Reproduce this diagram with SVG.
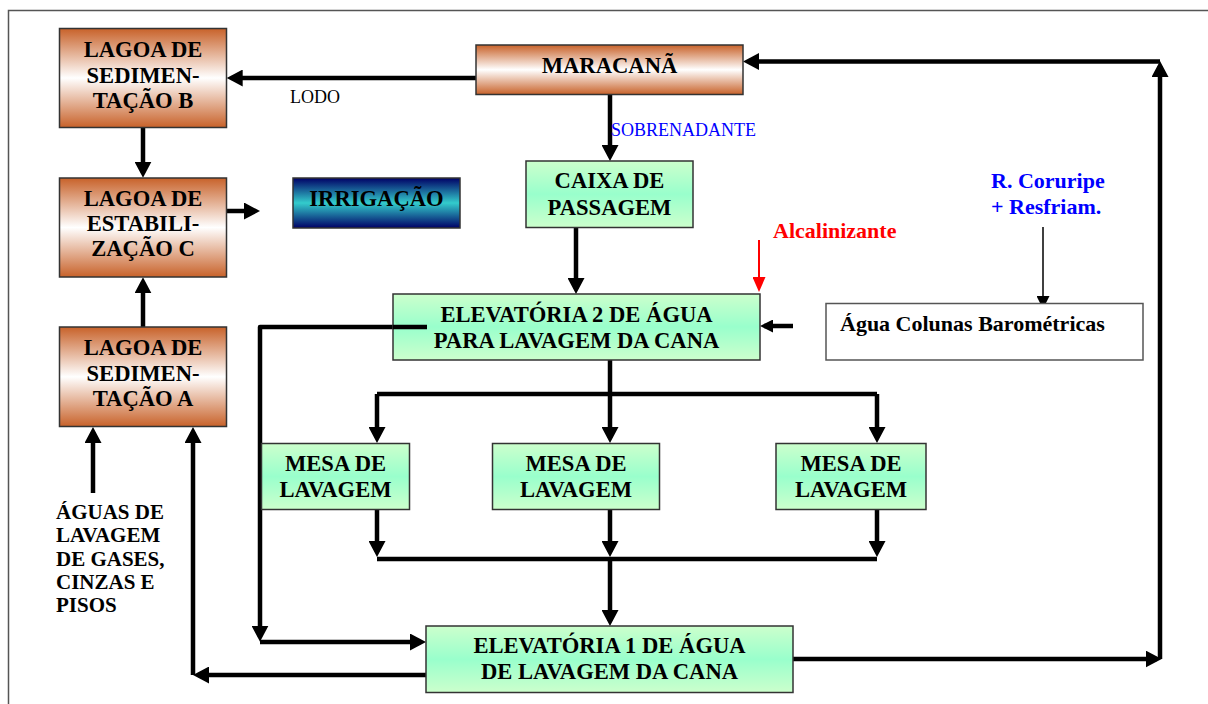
<svg xmlns="http://www.w3.org/2000/svg" width="1208" height="704" viewBox="0 0 1208 704">
<defs>
  <linearGradient id="gCopper" x1="0" y1="0" x2="0" y2="1">
    <stop offset="0" stop-color="#C8622A"/>
    <stop offset="0.5" stop-color="#FFFFFF"/>
    <stop offset="1" stop-color="#C8622A"/>
  </linearGradient>
  <linearGradient id="gGreen" x1="0" y1="0" x2="0" y2="1">
    <stop offset="0" stop-color="#CCFFCC"/>
    <stop offset="0.5" stop-color="#99FFCC"/>
    <stop offset="1" stop-color="#CCFFCC"/>
  </linearGradient>
  <linearGradient id="gBlue" x1="0" y1="0" x2="0" y2="1">
    <stop offset="0" stop-color="#000066"/>
    <stop offset="0.5" stop-color="#33CCCC"/>
    <stop offset="1" stop-color="#000066"/>
  </linearGradient>
  <marker id="arr" markerUnits="userSpaceOnUse" markerWidth="17" markerHeight="17" refX="11" refY="8.5" orient="auto">
    <path d="M0,0 L16,8.5 L0,17 z" fill="#000"/>
  </marker>
  <marker id="arrS" markerUnits="userSpaceOnUse" markerWidth="14" markerHeight="13" refX="9" refY="6.5" orient="auto">
    <path d="M0,0 L13,6.5 L0,13 z" fill="#000"/>
  </marker>
  <marker id="arrThin" markerUnits="userSpaceOnUse" markerWidth="14" markerHeight="13" refX="11" refY="6.5" orient="auto">
    <path d="M0,0 L13,6.5 L0,13 z" fill="#000"/>
  </marker>
  <marker id="arrRed" markerUnits="userSpaceOnUse" markerWidth="15" markerHeight="13" refX="12" refY="6.5" orient="auto">
    <path d="M0,0 L15,6.5 L0,13 z" fill="#FF0000"/>
  </marker>
</defs>
<style>
  .box { stroke: #333; stroke-width: 1.5; }
  .copper { fill: url(#gCopper); }
  .green { fill: url(#gGreen); }
  .blue { fill: url(#gBlue); }
  .lbl { font-family: "Liberation Serif", "Times New Roman", serif; font-weight: bold; font-size: 22.6px; fill: #000; text-anchor: middle; }
  .small { font-family: "Liberation Serif", "Times New Roman", serif; font-size: 18px; }
  .note { font-family: "Liberation Serif", "Times New Roman", serif; font-weight: bold; font-size: 22px; }
  .side { font-family: "Liberation Serif", "Times New Roman", serif; font-weight: bold; font-size: 21px; fill: #000; }
  .conn { fill: none; stroke: #000; stroke-width: 4.5; stroke-linejoin: round; }
  .thin { fill: none; stroke: #000; stroke-width: 1.5; }
  .red { fill: none; stroke: #FF0000; stroke-width: 2; }
</style>
<rect x="8.5" y="10.5" width="1300" height="800" fill="none" stroke="#555" stroke-width="1.5"/>

<g id="connectors">
  <path class="conn" d="M476,78 H231.7" marker-end="url(#arr)"/>
  <path class="conn" d="M610,95 V156" marker-end="url(#arr)"/>
  <path class="conn" d="M143,128 V172.7" marker-end="url(#arr)"/>
  <path class="conn" d="M226.7,211 H255" marker-end="url(#arr)"/>
  <path class="conn" d="M143,327 V282.3" marker-end="url(#arr)"/>
  <path class="conn" d="M576,228 V289" marker-end="url(#arr)"/>
  <path class="red" d="M759,240 V289" marker-end="url(#arrRed)"/>
  <path class="thin" d="M1043,227 V307" marker-end="url(#arrThin)"/>
  <path class="conn" d="M793,326 H764" marker-end="url(#arrS)"/>
  <path class="conn" d="M427,327 H260 V636.7" marker-end="url(#arr)"/>
  <path class="conn" d="M260,642 H421" marker-end="url(#arr)"/>
  <path class="conn" d="M610,360 V438" marker-end="url(#arr)"/>
  <path class="conn" d="M377,394 H877"/>
  <path class="conn" d="M377,394 V438" marker-end="url(#arr)"/>
  <path class="conn" d="M877,394 V438" marker-end="url(#arr)"/>
  <path class="conn" d="M377,510 V552" marker-end="url(#arr)"/>
  <path class="conn" d="M610,510 V552" marker-end="url(#arr)"/>
  <path class="conn" d="M877,510 V552" marker-end="url(#arr)"/>
  <path class="conn" d="M377,559 H877"/>
  <path class="conn" d="M610,559 V621" marker-end="url(#arr)"/>
  <path class="conn" d="M793,659 H1156.7" marker-end="url(#arr)"/>
  <path class="conn" d="M1160,659 V66" marker-end="url(#arr)"/>
  <path class="conn" d="M1160,61.5 H748" marker-end="url(#arr)"/>
  <path class="conn" d="M426,675 H198" marker-end="url(#arr)"/>
  <path class="conn" d="M193,675 V432" marker-end="url(#arr)"/>
  <path class="conn" d="M93,493 V432" marker-end="url(#arr)"/>
</g>

<g id="lagoaB">
  <rect class="box copper" x="59.5" y="28.5" width="167" height="99"/>
  <text class="lbl" x="143" y="57">LAGOA DE</text>
  <text class="lbl" x="143" y="82.5">SEDIMEN-</text>
  <text class="lbl" x="143" y="107.5">TAÇÃO B</text>
</g>
<g id="lagoaC">
  <rect class="box copper" x="59.5" y="178" width="167" height="99"/>
  <text class="lbl" x="143" y="206">LAGOA DE</text>
  <text class="lbl" x="143" y="231">ESTABILI-</text>
  <text class="lbl" x="143" y="256">ZAÇÃO C</text>
</g>
<g id="lagoaA">
  <rect class="box copper" x="59.5" y="327" width="167" height="99.5"/>
  <text class="lbl" x="143" y="355">LAGOA DE</text>
  <text class="lbl" x="143" y="380.5">SEDIMEN-</text>
  <text class="lbl" x="143" y="406">TAÇÃO A</text>
</g>
<g id="irrigacao">
  <rect class="box blue" x="293" y="178" width="167" height="50"/>
  <text class="lbl" x="376.5" y="205.5">IRRIGAÇÃO</text>
</g>
<g id="maracana">
  <rect class="box copper" x="476" y="45" width="267" height="49.5"/>
  <text class="lbl" x="609.5" y="73">MARACANÃ</text>
</g>
<g id="caixa">
  <rect class="box green" x="526" y="161" width="167" height="66.5"/>
  <text class="lbl" x="609.5" y="188">CAIXA DE</text>
  <text class="lbl" x="609.5" y="215">PASSAGEM</text>
</g>
<g id="elevatoria2">
  <rect class="box green" x="393" y="294" width="367" height="66"/>
  <path class="conn" d="M393,327 H427"/>
  <text class="lbl" x="576.5" y="322">ELEVATÓRIA 2 DE ÁGUA</text>
  <text class="lbl" x="576.5" y="348">PARA LAVAGEM DA CANA</text>
</g>
<g id="aguaColunas">
  <rect x="826" y="303.5" width="317" height="56.5" fill="#FFF" stroke="#555" stroke-width="1.5"/>
  <text class="note" x="840" y="331" fill="#000">Água Colunas Barométricas</text>
</g>
<g id="mesa1">
  <rect class="box green" x="261.5" y="443.5" width="148" height="66"/>
  <text class="lbl" x="335.5" y="471">MESA DE</text>
  <text class="lbl" x="335.5" y="497">LAVAGEM</text>
</g>
<g id="mesa2">
  <rect class="box green" x="492.5" y="443.5" width="167" height="66"/>
  <text class="lbl" x="576" y="471">MESA DE</text>
  <text class="lbl" x="576" y="497">LAVAGEM</text>
</g>
<g id="mesa3">
  <rect class="box green" x="776" y="443.5" width="150" height="66"/>
  <text class="lbl" x="851" y="471">MESA DE</text>
  <text class="lbl" x="851" y="497">LAVAGEM</text>
</g>
<g id="elevatoria1">
  <rect class="box green" x="426" y="626" width="367" height="66.5"/>
  <text class="lbl" x="609.5" y="653">ELEVATÓRIA 1 DE ÁGUA</text>
  <text class="lbl" x="609.5" y="679">DE LAVAGEM DA CANA</text>
</g>

<g id="labels">
  <text class="small" x="290" y="103" fill="#000">LODO</text>
  <text class="small" x="611" y="136" fill="#0000FF">SOBRENADANTE</text>
  <text class="note" x="773" y="238" fill="#FF0000">Alcalinizante</text>
  <text class="note" x="991" y="188" fill="#0000FF">R. Coruripe</text>
  <text class="note" x="991" y="214" fill="#0000FF">+ Resfriam.</text>
</g>
<g id="aguasLavagem">
  <text class="side" x="56" y="519">ÁGUAS DE</text>
  <text class="side" x="56" y="542">LAVAGEM</text>
  <text class="side" x="56" y="566">DE GASES,</text>
  <text class="side" x="56" y="589">CINZAS E</text>
  <text class="side" x="56" y="612">PISOS</text>
</g>
</svg>
